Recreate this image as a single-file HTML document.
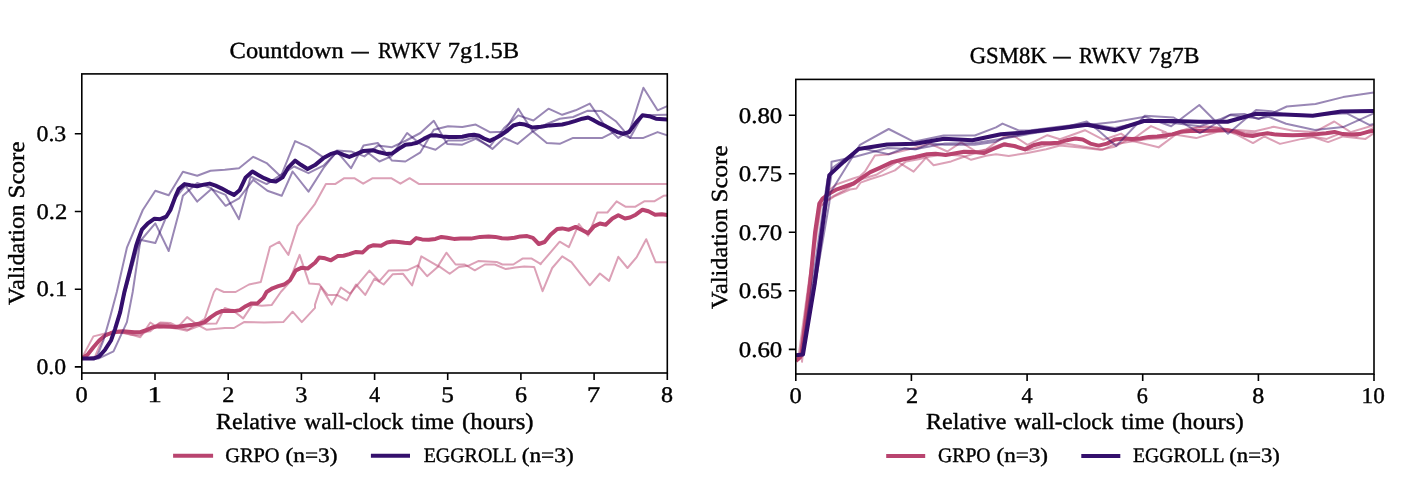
<!DOCTYPE html>
<html><head><meta charset="utf-8"><title>chart</title>
<style>
html,body{margin:0;padding:0;background:#fff;}
svg{display:block;font-family:"Liberation Serif",serif;fill:#000;}
#txt{text-rendering:geometricPrecision;stroke:#000;stroke-width:0.4px;stroke-linejoin:round;}
</style></head>
<body>
<svg width="1410" height="490" viewBox="0 0 1410 490">
<rect width="1410" height="490" fill="#fff"/>
<clipPath id="cl"><rect x="81.8" y="73.9" width="585.5" height="299.1"/></clipPath>
<clipPath id="cr"><rect x="795.8" y="79.4" width="578.2" height="294.6"/></clipPath>
<g clip-path="url(#cl)">
<polyline points="81.7,358.3 93.4,336.4 105.1,333.5 116.8,332.2 128.5,333.8 140.3,337.2 150.3,322.5 158.7,328.0 168.7,327.5 177.9,328.8 187.1,330.8 197.2,323.8 204.7,318.8 213.9,292.0 216.4,288.7 223.9,292.0 235.6,292.0 249.0,284.5 260.8,282.0 270.0,246.8 279.2,241.8 288.4,254.9 297.6,225.9 307.6,213.3 315.0,203.8 325.9,184.1 335.1,184.1 344.3,178.2 354.3,178.2 363.2,183.7 372.7,178.2 391.2,178.2 400.4,183.7 409.6,178.2 418.8,183.9 550.0,183.9 667.3,183.9" fill="none" stroke="#b9446f" stroke-width="2.0" stroke-opacity="0.5" stroke-linejoin="round"/>
<polyline points="81.7,358.4 90.0,357.9 95.1,356.4 99.6,345.7 103.9,337.0 111.0,333.3 121.8,332.2 131.0,334.7 140.3,335.2 149.5,329.7 158.7,323.5 167.9,323.8 177.1,328.0 187.1,317.1 197.2,324.6 206.4,329.7 224.8,328.0 234.0,328.0 244.0,322.1 264.1,322.5 283.3,322.1 292.6,311.7 301.8,322.1 315.0,307.9 315.0,304.6 320.9,287.0 331.7,304.6 340.9,287.5 350.1,293.7 369.4,270.6 379.4,281.2 388.6,270.6 407.1,270.3 417.9,265.3 427.1,276.2 438.8,266.1 449.7,273.7 458.9,267.0 468.1,265.8 478.2,261.1 496.6,261.9 502.4,264.5 513.3,264.5 522.5,258.6 531.7,258.6 540.9,264.1 540.4,264.2 559.7,241.7 568.9,247.1 578.9,224.0 588.1,235.6 597.3,212.5 607.4,212.5 616.6,201.3 625.8,206.8 635.0,206.8 644.2,201.3 654.2,201.3 663.5,195.8 667.3,195.4" fill="none" stroke="#b9446f" stroke-width="2.0" stroke-opacity="0.5" stroke-linejoin="round"/>
<polyline points="81.7,358.3 87.5,354.8 93.4,347.6 99.2,340.9 105.1,335.8 113.5,332.5 125.2,332.2 140.3,332.2 150.3,331.3 160.3,322.5 170.4,323.0 180.4,328.0 188.8,329.7 204.7,323.8 216.4,323.5 224.8,307.9 234.0,311.2 243.2,318.4 252.4,304.6 261.6,305.7 271.6,305.1 280.8,292.0 288.4,283.6 299.6,254.9 309.3,283.6 319.2,284.2 327.6,294.9 336.8,294.9 346.8,300.4 356.0,284.5 365.2,294.9 374.4,278.7 383.6,284.5 392.8,274.2 402.9,273.7 412.1,285.4 421.3,256.4 438.0,266.1 446.4,252.7 455.6,264.5 464.8,264.5 474.8,270.3 484.9,264.5 494.9,264.5 505.8,269.1 515.0,267.5 524.2,266.5 534.2,267.0 542.6,291.2 552.2,268.0 562.2,256.3 571.4,262.2 580.6,273.9 589.8,285.3 599.9,273.5 609.1,280.9 618.3,256.8 627.5,268.0 636.7,257.1 646.2,239.2 655.6,262.2 667.3,262.2" fill="none" stroke="#b9446f" stroke-width="2.0" stroke-opacity="0.5" stroke-linejoin="round"/>
<polyline points="81.7,358.3 87.5,354.8 93.4,347.2 99.2,340.5 105.1,335.5 111.0,333.0 116.8,331.7 122.7,331.3 128.5,331.7 134.4,332.2 140.3,332.2 146.1,330.2 152.0,327.5 157.8,326.3 163.7,326.3 169.5,326.6 175.4,327.1 181.3,326.3 187.1,325.5 193.0,324.8 198.8,323.8 204.7,322.1 210.5,317.4 216.4,313.4 222.3,310.9 228.1,310.7 234.0,311.1 239.8,310.1 245.7,306.2 251.5,303.4 257.4,303.4 263.3,297.9 266.6,292.0 272.5,288.3 278.3,286.2 284.2,284.5 290.0,280.3 295.9,270.3 301.8,267.7 307.6,268.6 315.0,262.8 319.2,257.4 325.0,258.3 330.9,260.3 337.6,256.1 343.5,255.7 349.3,254.1 356.0,251.9 362.7,252.4 368.6,246.9 373.6,245.2 381.1,245.7 387.0,242.4 392.8,241.5 398.7,242.0 404.5,242.7 410.4,243.2 416.3,238.1 422.1,239.4 428.8,239.8 435.5,238.9 441.4,236.9 447.2,237.8 453.9,238.9 460.6,238.4 471.0,238.6 480.2,236.9 488.6,236.4 495.3,236.9 501.9,238.3 507.8,238.6 514.5,237.8 520.4,236.4 527.1,236.1 532.9,237.8 538.8,244.0 544.6,242.0 550.5,234.8 557.2,228.9 562.2,228.4 568.9,229.7 575.6,226.9 581.4,229.7 588.1,233.1 594.0,226.4 599.9,223.5 605.7,224.7 612.4,218.5 618.3,215.2 625.0,218.5 630.0,217.5 635.8,214.7 642.5,209.7 648.4,211.3 655.1,214.7 661.8,214.2 667.3,215.0" fill="none" stroke="#b9446f" stroke-width="4.0" stroke-opacity="1.0" stroke-linejoin="round"/>
<polyline points="81.7,358.6 96.7,357.3 103.4,340.5 110.1,317.1 116.8,292.0 126.9,247.7 142.8,210.0 155.3,190.8 168.7,195.3 182.9,171.8 197.2,175.7 210.5,170.7 224.8,169.8 239.0,168.2 253.2,156.8 266.6,163.1 280.8,176.5 295.1,141.1 308.5,147.2 323.4,157.3 336.8,150.6 351.0,151.4 364.4,156.4 377.8,145.6 392.0,147.2 406.2,140.5 420.4,133.0 433.8,120.8 447.2,143.9 462.3,144.7 475.7,138.9 489.9,146.4 504.1,128.0 518.3,115.4 533.4,120.5 548.5,108.7 562.2,114.8 575.6,110.3 589.8,103.6 604.0,124.5 618.3,137.9 630.0,129.6 643.4,87.7 657.6,110.3 667.3,106.1" fill="none" stroke="#340f6c" stroke-width="2.0" stroke-opacity="0.5" stroke-linejoin="round"/>
<polyline points="81.7,358.9 98.4,358.6 113.5,351.4 126.9,322.1 132.7,292.0 140.3,241.0 155.3,223.4 168.7,251.0 179.6,210.0 182.9,195.8 197.2,182.9 211.4,188.3 225.6,205.8 239.0,198.3 253.2,179.9 267.4,190.8 281.7,195.8 292.6,171.5 308.5,191.6 323.4,168.2 336.8,151.4 351.0,168.2 363.5,145.6 377.8,143.0 392.0,160.6 405.4,161.5 420.4,152.3 433.8,129.7 448.1,126.3 462.3,127.1 475.7,124.6 489.9,132.2 504.1,131.8 518.3,108.7 532.6,131.3 546.8,143.0 559.7,143.8 573.1,137.9 602.4,137.9 615.8,131.2 630.0,137.9 643.4,137.9 657.6,132.1 667.3,135.4" fill="none" stroke="#340f6c" stroke-width="2.0" stroke-opacity="0.5" stroke-linejoin="round"/>
<polyline points="81.7,358.6 93.4,358.6 99.2,356.6 105.1,349.9 111.0,340.7 115.1,329.0 120.2,312.3 123.8,297.0 136.9,250.2 141.1,240.1 155.3,243.1 167.0,215.0 173.7,200.0 185.4,185.7 197.2,201.6 211.4,189.1 225.6,194.9 239.0,219.2 250.7,176.5 266.6,184.1 280.8,174.9 294.2,166.5 308.5,173.2 323.4,165.6 336.8,152.3 350.1,156.4 365.2,150.6 379.4,161.5 391.2,156.4 407.1,133.0 422.1,145.6 435.5,149.7 448.1,140.5 462.3,140.5 475.7,137.2 492.4,148.9 504.1,138.0 517.5,143.9 531.7,132.2 545.5,124.5 559.7,118.7 573.1,117.0 587.3,110.8 601.5,111.1 615.8,121.2 630.0,137.9 642.5,115.3 667.3,114.8" fill="none" stroke="#340f6c" stroke-width="2.0" stroke-opacity="0.5" stroke-linejoin="round"/>
<polyline points="81.7,358.6 93.4,358.6 99.2,356.4 105.1,349.7 111.0,340.5 115.1,328.8 120.2,312.1 124.4,292.0 130.2,269.4 136.1,246.0 138.6,238.5 141.9,229.7 147.8,223.4 154.5,218.7 160.3,219.2 166.2,216.7 170.4,210.0 175.4,196.6 178.7,189.1 184.6,184.1 190.5,185.2 197.2,186.2 203.8,184.6 209.7,183.6 215.6,185.7 221.4,188.3 227.3,191.6 234.0,194.9 239.8,189.9 245.7,177.4 252.4,171.5 258.2,174.9 264.1,178.2 270.0,180.7 275.8,181.6 282.5,177.4 288.4,167.3 295.1,160.6 300.9,164.8 307.6,169.0 315.0,165.1 323.4,158.1 330.9,153.9 337.6,152.3 343.5,154.8 349.3,156.9 356.8,153.9 363.5,150.9 372.7,150.2 379.4,152.3 386.1,153.9 392.0,153.6 398.7,148.9 405.4,144.7 412.1,143.9 417.1,142.7 423.8,138.9 430.5,135.5 435.5,135.2 442.2,136.4 448.9,136.9 455.6,136.9 462.3,136.7 469.0,135.2 474.0,134.7 479.0,135.8 484.0,138.5 489.9,140.9 495.8,138.0 501.6,134.7 507.5,130.5 513.3,125.5 519.2,123.8 525.0,124.6 532.6,127.5 540.9,126.8 549.6,125.4 562.2,124.5 568.9,122.9 575.6,120.9 582.3,118.7 588.1,117.5 594.0,120.4 599.9,123.7 605.7,126.2 611.6,129.2 617.4,132.1 623.3,133.7 629.1,132.1 635.8,122.9 642.5,115.3 649.2,116.2 655.9,118.7 667.3,119.5" fill="none" stroke="#340f6c" stroke-width="4.0" stroke-opacity="1.0" stroke-linejoin="round"/>
</g>
<g clip-path="url(#cr)">
<polyline points="795.9,360.5 798.4,357.6 808.5,284.0 816.0,232.0 820.0,205.0 824.0,197.0 829.0,190.0 836.8,184.2 853.1,178.5 859.7,176.4 865.0,171.5 874.9,155.5 887.4,154.5 899.9,151.5 914.9,147.7 929.9,143.6 947.3,151.5 961.1,142.3 976.1,151.5 986.0,149.5 996.0,142.3 1005.0,136.1 1015.0,136.7 1027.5,144.8 1047.4,135.2 1059.9,139.2 1077.4,133.0 1084.9,130.2 1103.6,139.8 1121.1,133.6 1131.1,140.5 1151.0,126.1 1166.0,132.3 1162.5,132.4 1196.2,138.1 1217.4,131.8 1237.4,130.0 1254.9,131.2 1273.6,126.8 1293.1,130.8 1314.4,132.1 1334.3,121.5 1350.6,132.1 1373.8,125.2" fill="none" stroke="#b9446f" stroke-width="2.0" stroke-opacity="0.5" stroke-linejoin="round"/>
<polyline points="795.9,357.6 801.7,357.6 802.0,361.8 810.0,284.0 817.0,232.0 821.0,206.0 826.0,201.0 831.8,197.0 845.0,190.0 861.2,179.2 876.2,174.8 887.4,167.9 897.4,161.7 913.6,171.7 926.1,157.7 933.6,165.2 951.1,161.4 961.1,157.7 971.1,154.5 986.0,149.8 996.0,146.1 1005.0,143.0 1027.5,150.4 1046.2,145.5 1064.9,143.6 1077.4,145.5 1102.4,149.8 1114.8,144.2 1129.8,141.7 1146.1,139.2 1166.0,138.0 1168.7,134.9 1187.5,128.7 1206.2,126.2 1224.9,128.7 1244.9,132.4 1262.4,133.7 1276.9,133.9 1311.9,136.4 1326.8,138.9 1340.6,133.3 1356.8,136.4 1373.8,127.7" fill="none" stroke="#b9446f" stroke-width="2.0" stroke-opacity="0.5" stroke-linejoin="round"/>
<polyline points="795.9,356.0 800.0,355.0 809.0,284.0 816.0,232.0 820.5,206.0 826.0,202.0 835.0,196.0 850.0,189.5 856.4,188.5 860.5,182.6 869.9,179.2 882.4,175.4 894.9,170.4 906.1,161.4 918.6,159.2 929.9,156.5 944.8,154.5 962.3,155.7 971.1,159.8 986.0,155.7 996.0,154.2 1008.7,156.1 1027.5,152.9 1046.2,149.2 1059.9,145.5 1077.4,147.3 1099.9,149.8 1114.8,146.7 1127.3,139.8 1141.1,143.0 1158.5,147.3 1166.0,141.7 1158.7,147.4 1176.2,134.3 1197.4,127.5 1217.4,127.5 1237.4,134.9 1253.0,143.1 1264.4,136.4 1280.0,143.9 1301.9,138.9 1313.1,137.1 1328.1,142.1 1343.1,136.4 1365.5,138.9 1373.8,133.3" fill="none" stroke="#b9446f" stroke-width="2.0" stroke-opacity="0.5" stroke-linejoin="round"/>
<polyline points="795.9,361.0 800.2,357.2 801.6,354.5 810.0,284.0 815.1,232.0 819.3,203.6 822.6,198.5 829.3,193.5 836.9,189.3 845.2,186.5 853.6,183.5 862.0,177.6 870.3,172.1 880.4,167.6 892.1,162.1 903.8,159.2 915.5,157.0 927.2,154.2 935.6,153.7 945.6,155.0 955.7,153.3 964.1,151.7 974.1,152.0 984.1,153.0 994.2,148.5 1004.2,144.4 1014.3,146.0 1025.0,149.4 1033.4,145.2 1041.7,143.2 1050.1,143.2 1058.5,142.7 1066.8,140.2 1075.2,138.5 1082.7,139.4 1090.3,143.6 1098.6,145.6 1107.0,143.6 1115.4,139.4 1123.7,138.5 1132.1,139.0 1140.5,138.5 1148.8,136.9 1157.2,136.5 1165.6,135.5 1172.3,134.4 1180.6,131.8 1190.7,131.0 1200.7,131.0 1209.1,130.7 1219.1,130.2 1227.5,130.2 1235.9,131.8 1244.2,134.9 1252.6,136.0 1260.0,134.4 1267.5,133.2 1275.9,134.6 1284.3,134.9 1292.6,135.2 1301.0,134.9 1309.4,134.6 1317.7,134.1 1326.1,133.2 1334.5,131.9 1342.8,134.1 1351.2,134.6 1359.6,134.1 1367.9,131.9 1374.0,130.7" fill="none" stroke="#b9446f" stroke-width="4.0" stroke-opacity="1.0" stroke-linejoin="round"/>
<polyline points="795.9,355.0 803.0,354.0 829.3,203.0 830.3,192.8 860.0,144.8 888.7,129.0 913.6,141.7 943.6,135.5 974.8,135.5 996.0,127.4 1002.5,123.6 1018.7,130.5 1031.2,130.2 1058.7,126.7 1086.8,123.6 1114.8,128.0 1144.8,121.1 1171.2,122.7 1199.9,126.2 1219.9,119.3 1230.6,114.6 1244.4,114.0 1258.7,119.0 1271.8,113.3 1286.8,106.5 1315.5,104.0 1343.1,97.1 1373.8,92.5" fill="none" stroke="#340f6c" stroke-width="2.0" stroke-opacity="0.5" stroke-linejoin="round"/>
<polyline points="795.9,355.0 801.7,354.0 831.2,176.7 831.5,161.7 855.0,156.7 887.4,148.0 916.1,149.2 929.9,143.6 944.8,144.8 974.8,144.8 996.0,141.7 1003.7,138.0 1031.2,132.3 1058.7,128.6 1086.8,121.5 1096.1,128.6 1116.1,146.1 1144.8,115.7 1173.7,117.5 1199.9,133.1 1229.9,115.0 1258.6,118.5 1268.6,116.8 1286.1,123.7 1314.8,130.0 1343.1,127.1 1373.8,113.3" fill="none" stroke="#340f6c" stroke-width="2.0" stroke-opacity="0.5" stroke-linejoin="round"/>
<polyline points="795.9,355.0 801.7,354.5 827.5,179.2 832.5,167.9 860.0,148.0 876.2,151.5 888.7,154.2 904.9,148.0 914.9,149.2 944.8,143.6 974.8,143.0 996.0,139.8 1003.7,138.6 1031.2,133.6 1058.7,129.2 1086.8,124.9 1114.8,122.0 1144.8,116.7 1171.2,126.2 1199.3,105.0 1228.0,133.7 1256.1,110.0 1271.1,111.2 1283.1,114.0 1311.9,115.2 1346.8,113.3 1369.3,124.9 1373.8,124.0" fill="none" stroke="#340f6c" stroke-width="2.0" stroke-opacity="0.5" stroke-linejoin="round"/>
<polyline points="795.9,355.2 803.0,354.5 814.7,284.0 821.8,232.0 829.3,175.1 843.6,161.9 858.6,148.9 887.1,144.4 915.5,143.8 944.0,138.8 972.4,140.2 1000.9,134.3 1025.0,132.6 1058.5,128.5 1086.9,124.8 1115.4,130.2 1143.8,121.0 1172.3,121.0 1199.1,121.8 1227.5,121.8 1256.0,113.8 1284.3,114.5 1312.7,115.7 1341.2,111.5 1374.0,111.0" fill="none" stroke="#340f6c" stroke-width="4.0" stroke-opacity="1.0" stroke-linejoin="round"/>
</g>
<rect x="81.8" y="73.9" width="585.5" height="299.1" fill="none" stroke="#000" stroke-width="1.6"/>
<rect x="795.8" y="79.4" width="578.2" height="294.6" fill="none" stroke="#000" stroke-width="1.6"/>
<path d="M81.8,373.0v7.0 M155.0,373.0v7.0 M228.2,373.0v7.0 M301.4,373.0v7.0 M374.6,373.0v7.0 M447.7,373.0v7.0 M520.9,373.0v7.0 M594.1,373.0v7.0 M667.3,373.0v7.0 M81.8,366.9h-7.0 M81.8,289.2h-7.0 M81.8,211.5h-7.0 M81.8,133.8h-7.0 M795.8,374.0v7.0 M911.4,374.0v7.0 M1027.1,374.0v7.0 M1142.7,374.0v7.0 M1258.4,374.0v7.0 M1374.0,374.0v7.0 M795.8,349.4h-7.0 M795.8,290.8h-7.0 M795.8,232.3h-7.0 M795.8,173.8h-7.0 M795.8,115.2h-7.0" stroke="#000" stroke-width="1.6" fill="none"/>
<line x1="173.1" x2="213.1" y1="455.7" y2="455.7" stroke="#b9446f" stroke-width="4.0"/>
<line x1="370.9" x2="410.0" y1="455.7" y2="455.7" stroke="#340f6c" stroke-width="4.0"/>
<line x1="886.2" x2="925.2" y1="456.0" y2="456.0" stroke="#b9446f" stroke-width="4.0"/>
<line x1="1081.3" x2="1120.3" y1="456.0" y2="456.0" stroke="#340f6c" stroke-width="4.0"/>
<g id="txt" style="will-change:opacity" opacity="0.999">
<text x="229.60" y="58.10" font-size="23" textLength="114.07" lengthAdjust="spacingAndGlyphs">Countdown</text>
<text x="351.50" y="58.10" font-size="23" textLength="17.26" lengthAdjust="spacingAndGlyphs">—</text>
<text x="377.90" y="58.10" font-size="23" textLength="63.13" lengthAdjust="spacingAndGlyphs">RWKV</text>
<text x="447.70" y="58.10" font-size="23" textLength="71.32" lengthAdjust="spacingAndGlyphs">7g1.5B</text>
<text x="969.70" y="63.40" font-size="23" textLength="77.02" lengthAdjust="spacingAndGlyphs">GSM8K</text>
<text x="1053.30" y="63.40" font-size="23" textLength="17.43" lengthAdjust="spacingAndGlyphs">—</text>
<text x="1078.90" y="63.40" font-size="23" textLength="62.77" lengthAdjust="spacingAndGlyphs">RWKV</text>
<text x="1148.50" y="63.40" font-size="23" textLength="51.07" lengthAdjust="spacingAndGlyphs">7g7B</text>
<text x="215.90" y="428.60" font-size="23" textLength="80.34" lengthAdjust="spacingAndGlyphs">Relative</text>
<text x="926.00" y="428.90" font-size="23" textLength="80.34" lengthAdjust="spacingAndGlyphs">Relative</text>
<text x="304.30" y="428.60" font-size="23" textLength="98.95" lengthAdjust="spacingAndGlyphs">wall-clock</text>
<text x="1014.40" y="428.90" font-size="23" textLength="98.95" lengthAdjust="spacingAndGlyphs">wall-clock</text>
<text x="411.20" y="428.60" font-size="23" textLength="42.80" lengthAdjust="spacingAndGlyphs">time</text>
<text x="1121.30" y="428.90" font-size="23" textLength="42.80" lengthAdjust="spacingAndGlyphs">time</text>
<text x="462.00" y="428.60" font-size="23" textLength="71.58" lengthAdjust="spacingAndGlyphs">(hours)</text>
<text x="1172.10" y="428.90" font-size="23" textLength="71.58" lengthAdjust="spacingAndGlyphs">(hours)</text>
<text x="24.40" y="305.00" font-size="23" textLength="100.51" lengthAdjust="spacingAndGlyphs" transform="rotate(-90 24.40 305.00)">Validation</text>
<text x="24.40" y="198.50" font-size="23" textLength="57.08" lengthAdjust="spacingAndGlyphs" transform="rotate(-90 24.40 198.50)">Score</text>
<text x="726.70" y="309.00" font-size="23" textLength="100.50" lengthAdjust="spacingAndGlyphs" transform="rotate(-90 726.70 309.00)">Validation</text>
<text x="726.70" y="202.50" font-size="23" textLength="57.06" lengthAdjust="spacingAndGlyphs" transform="rotate(-90 726.70 202.50)">Score</text>
<text x="75.50" y="401.80" font-size="22.4" textLength="12.24" lengthAdjust="spacingAndGlyphs">0</text>
<text x="147.44" y="401.80" font-size="22.4" textLength="14.42" lengthAdjust="spacingAndGlyphs">1</text>
<text x="222.38" y="401.80" font-size="22.4" textLength="12.14" lengthAdjust="spacingAndGlyphs">2</text>
<text x="295.31" y="401.80" font-size="22.4" textLength="12.14" lengthAdjust="spacingAndGlyphs">3</text>
<text x="369.25" y="401.80" font-size="22.4" textLength="10.83" lengthAdjust="spacingAndGlyphs">4</text>
<text x="441.19" y="401.80" font-size="22.4" textLength="12.62" lengthAdjust="spacingAndGlyphs">5</text>
<text x="515.12" y="401.80" font-size="22.4" textLength="12.01" lengthAdjust="spacingAndGlyphs">6</text>
<text x="587.06" y="401.80" font-size="22.4" textLength="13.24" lengthAdjust="spacingAndGlyphs">7</text>
<text x="661.00" y="401.80" font-size="22.4" textLength="12.04" lengthAdjust="spacingAndGlyphs">8</text>
<text x="789.50" y="402.80" font-size="22.4" textLength="12.24" lengthAdjust="spacingAndGlyphs">0</text>
<text x="905.94" y="402.80" font-size="22.4" textLength="12.16" lengthAdjust="spacingAndGlyphs">2</text>
<text x="1021.38" y="402.80" font-size="22.4" textLength="11.11" lengthAdjust="spacingAndGlyphs">4</text>
<text x="1136.82" y="402.80" font-size="22.4" textLength="11.12" lengthAdjust="spacingAndGlyphs">6</text>
<text x="1252.26" y="402.80" font-size="22.4" textLength="12.04" lengthAdjust="spacingAndGlyphs">8</text>
<text x="1361.60" y="402.80" font-size="22.4" textLength="23.19" lengthAdjust="spacingAndGlyphs">10</text>
<text x="36.50" y="374.10" font-size="22.4" textLength="29.68" lengthAdjust="spacingAndGlyphs">0.0</text>
<text x="36.50" y="296.40" font-size="22.4" textLength="30.86" lengthAdjust="spacingAndGlyphs">0.1</text>
<text x="36.50" y="218.70" font-size="22.4" textLength="30.71" lengthAdjust="spacingAndGlyphs">0.2</text>
<text x="36.50" y="141.00" font-size="22.4" textLength="29.75" lengthAdjust="spacingAndGlyphs">0.3</text>
<text x="738.70" y="356.70" font-size="22.4" textLength="43.63" lengthAdjust="spacingAndGlyphs">0.60</text>
<text x="738.70" y="298.15" font-size="22.4" textLength="43.61" lengthAdjust="spacingAndGlyphs">0.65</text>
<text x="738.70" y="239.60" font-size="22.4" textLength="43.63" lengthAdjust="spacingAndGlyphs">0.70</text>
<text x="738.70" y="181.05" font-size="22.4" textLength="43.61" lengthAdjust="spacingAndGlyphs">0.75</text>
<text x="738.70" y="122.50" font-size="22.4" textLength="43.63" lengthAdjust="spacingAndGlyphs">0.80</text>
<text x="225.20" y="462.00" font-size="20.6" textLength="54.38" lengthAdjust="spacingAndGlyphs">GRPO</text>
<text x="285.50" y="462.00" font-size="20.6" textLength="51.99" lengthAdjust="spacingAndGlyphs">(n=3)</text>
<text x="423.70" y="462.00" font-size="20.6" textLength="92.90" lengthAdjust="spacingAndGlyphs">EGGROLL</text>
<text x="521.70" y="462.00" font-size="20.6" textLength="51.99" lengthAdjust="spacingAndGlyphs">(n=3)</text>
<text x="938.00" y="462.30" font-size="20.6" textLength="52.57" lengthAdjust="spacingAndGlyphs">GRPO</text>
<text x="996.50" y="462.30" font-size="20.6" textLength="51.57" lengthAdjust="spacingAndGlyphs">(n=3)</text>
<text x="1133.10" y="462.30" font-size="20.6" textLength="91.48" lengthAdjust="spacingAndGlyphs">EGGROLL</text>
<text x="1229.30" y="462.30" font-size="20.6" textLength="50.54" lengthAdjust="spacingAndGlyphs">(n=3)</text>
</g>
</svg>
</body></html>
